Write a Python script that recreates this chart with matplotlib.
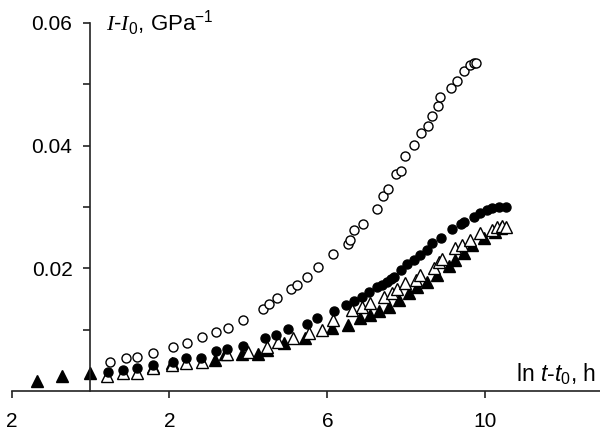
import matplotlib
matplotlib.use("Agg")
import matplotlib.pyplot as plt

plt.rcParams['font.family'] = ['Liberation Sans', 'DejaVu Sans']
plt.rcParams['mathtext.fontset'] = 'custom'
plt.rcParams['mathtext.rm'] = 'Liberation Sans'
plt.rcParams['mathtext.it'] = 'Liberation Sans:italic'
plt.rcParams['mathtext.cal'] = 'Liberation Serif:italic'

# --- data ---
open_circ_x = [0.5, 0.9, 1.17, 1.58, 2.1, 2.44, 2.82, 3.18, 3.48, 3.87, 4.38, 4.53, 4.73,
               5.07, 5.23, 5.48, 5.77, 6.15, 6.51, 6.56, 6.68, 6.90, 7.25, 7.40, 7.52, 7.74,
               7.85, 7.97, 8.18, 8.37, 8.54, 8.65, 8.79, 8.86, 9.14, 9.28, 9.45, 9.62, 9.72, 9.75]
open_circ_y = [0.0048, 0.0053, 0.0056, 0.0062, 0.0072, 0.0079, 0.0088, 0.0096, 0.0102, 0.0115,
               0.0134, 0.0142, 0.0151, 0.0166, 0.0173, 0.0186, 0.0202, 0.0223, 0.0240, 0.0246,
               0.0263, 0.0273, 0.0296, 0.0318, 0.0330, 0.0354, 0.0359, 0.0383, 0.0401, 0.0421,
               0.0432, 0.0449, 0.0464, 0.0480, 0.0494, 0.0505, 0.0522, 0.0532, 0.0534, 0.0534]

fill_circ_x = [0.45, 0.83, 1.17, 1.58, 2.09, 2.42, 2.80, 3.18, 3.45, 3.87, 4.42, 4.70, 5.01,
               5.48, 5.73, 6.17, 6.48, 6.68, 6.87, 7.04, 7.25, 7.38, 7.50, 7.60, 7.68, 7.85,
               8.01, 8.18, 8.35, 8.52, 8.65, 8.88, 9.16, 9.37, 9.45, 9.72, 9.87, 10.04, 10.17,
               10.34, 10.51]
fill_circ_y = [0.0031, 0.0035, 0.0038, 0.0042, 0.0048, 0.0054, 0.0054, 0.0066, 0.0069, 0.0074,
               0.0086, 0.0092, 0.0101, 0.0110, 0.0119, 0.0130, 0.0140, 0.0147, 0.0154, 0.0162,
               0.0169, 0.0173, 0.0178, 0.0182, 0.0186, 0.0197, 0.0207, 0.0214, 0.0222, 0.0230,
               0.0241, 0.0250, 0.0264, 0.0272, 0.0275, 0.0284, 0.0290, 0.0295, 0.0299, 0.0300,
               0.0300]

open_tri_x = [0.43, 0.82, 1.17, 1.58, 2.07, 2.42, 2.82, 3.45, 4.00, 4.48, 4.76, 5.13, 5.52,
              5.86, 6.15, 6.62, 6.87, 7.08, 7.42, 7.64, 7.76, 7.97, 8.23, 8.35, 8.69, 8.82,
              8.90, 9.24, 9.41, 9.62, 9.87, 10.17, 10.30, 10.42, 10.52]
open_tri_y = [0.0024, 0.0029, 0.0029, 0.0037, 0.0043, 0.0045, 0.0048, 0.0060, 0.0064, 0.0072,
              0.0080, 0.0086, 0.0095, 0.0100, 0.0115, 0.0132, 0.0137, 0.0144, 0.0154, 0.0159,
              0.0167, 0.0176, 0.0181, 0.0189, 0.0200, 0.0211, 0.0216, 0.0233, 0.0238, 0.0246,
              0.0257, 0.0262, 0.0268, 0.0269, 0.0268]

fill_tri_x = [-1.35, -0.73, 0.0, 1.58, 2.07, 3.16, 3.41, 3.83, 4.23, 4.48, 4.90, 5.44, 6.12,
              6.51, 6.83, 7.08, 7.30, 7.55, 7.80, 8.06, 8.27, 8.52, 8.78, 9.07, 9.24, 9.45,
              9.66, 9.96, 10.25, 10.40]
fill_tri_y = [0.0016, 0.0024, 0.0030, 0.0039, 0.0045, 0.0051, 0.0060, 0.0060, 0.0060, 0.0067,
              0.0078, 0.0086, 0.0102, 0.0108, 0.0119, 0.0124, 0.0131, 0.0137, 0.0148, 0.0159,
              0.0169, 0.0178, 0.0189, 0.0203, 0.0214, 0.0225, 0.0238, 0.0249, 0.0260, 0.0265]

x_ticks = [-2, 2, 6, 10]
x_tick_labels = ["2", "2", "6", "10"]
y_ticks = [0.02, 0.04, 0.06]
y_tick_labels = ["0.02", "0.04", "0.06"]
y_minor = [0.01, 0.03, 0.05]

W, H = 600, 437
X0, X1 = -2, 12.9
px_left, px_right = 11.5, 600.0
px_bottom, px_top = 391.0, 23.0

fig = plt.figure(figsize=(6, 4.37), dpi=100)
ax = fig.add_axes([px_left / W, (H - px_bottom) / H, (px_right - px_left) / W,
                   (px_bottom - px_top) / H])
ax.set_xlim(X0, X1)
ax.set_ylim(0, 0.06)

# separate axes that carries the vertical axis at x = 0
px_zero = px_left + (0 - X0) / (X1 - X0) * (px_right - px_left)
ay = fig.add_axes([px_zero / W, (H - px_bottom) / H, 0.001, (px_bottom - px_top) / H])
ay.set_ylim(0, 0.06)
ay.patch.set_visible(False)
for s in ['top', 'right', 'bottom']:
    ay.spines[s].set_visible(False)
ay.set_xticks([])
ay.spines['left'].set_linewidth(1.2)
ay.spines['left'].set_color('#222222')
ay.set_yticks(y_ticks)
ay.set_yticklabels(y_tick_labels)
ay.set_yticks(y_minor, minor=True)
ay.tick_params(axis='y', which='both', direction='out', length=5, width=1.2,
               color='#222222', labelsize=15, pad=8)

ax.plot(fill_tri_x, fill_tri_y, '^', ms=8, mfc='black', mec='black', clip_on=False, zorder=3)
ax.plot(open_tri_x, open_tri_y, '^', ms=8, mfc='white', mec='black', mew=1, clip_on=False, zorder=4)
ax.plot(fill_circ_x, fill_circ_y, 'o', ms=6.5, mfc='black', mec='black', clip_on=False, zorder=5)
ax.plot(open_circ_x, open_circ_y, 'o', ms=6.5, mfc='white', mec='black', mew=1, clip_on=False, zorder=6)

for s in ['top', 'right', 'left']:
    ax.spines[s].set_visible(False)
ax.spines['bottom'].set_linewidth(1.2)
ax.spines['bottom'].set_color('#222222')
ax.set_yticks([])
ax.set_xticks(x_ticks)
ax.set_xticklabels(x_tick_labels)
ax.tick_params(axis='x', direction='out', length=5, width=1.2,
               color='#222222', labelsize=15, pad=10)

ax.text(0.4, 0.06, r"$\mathcal{I}$-$\mathcal{I}_0$, GPa$^{-1}$", fontsize=16,
        ha='left', va='center')
ax.text(12.8, 0.0016, r"ln $t$-$t_0$, h", fontsize=16.5, ha='right', va='baseline')

fig.savefig("out.png", dpi=100)
